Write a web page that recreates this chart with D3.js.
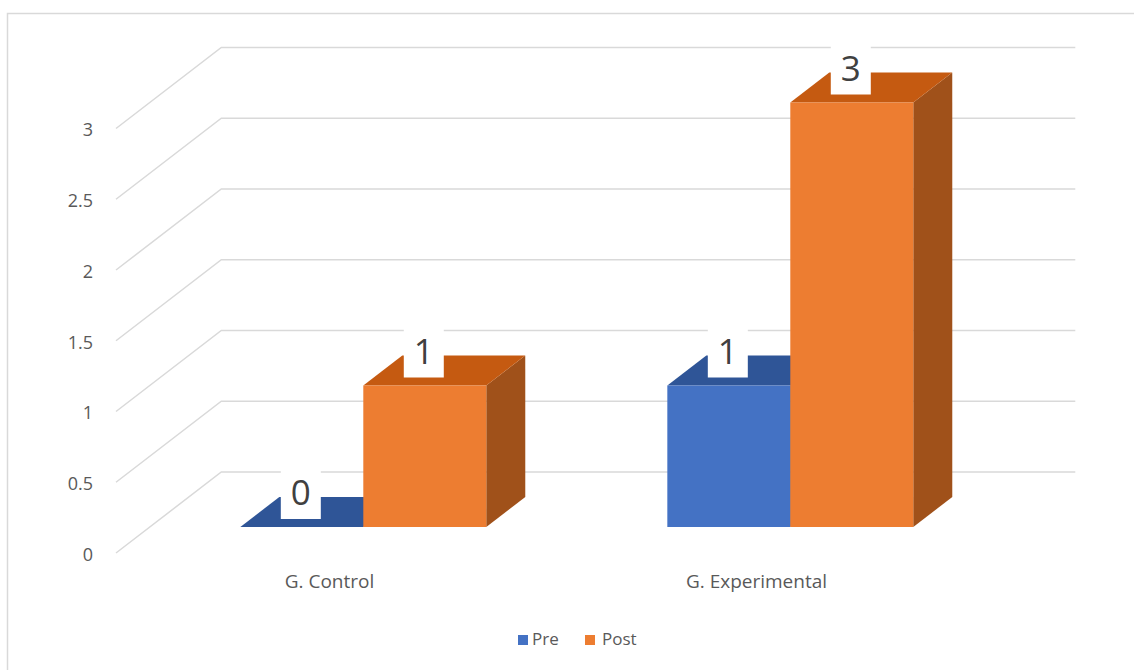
<!DOCTYPE html>
<html>
<head>
<meta charset="utf-8">
<script src="https://cdn.jsdelivr.net/npm/d3@7"></script>
<style>
  html, body { margin: 0; padding: 0; background: #fff; }
  svg { display: block; font-family: "Open Sans", "Noto Sans", sans-serif; }
</style>
</head>
<body>
<svg id="chart" width="1134" height="670"></svg>
<script>
// Data
const categories = ["G. Control", "G. Experimental"];
const seriesNames = ["Pre", "Post"];
const preValues = [0, 1];
const postValues = [1, 3];
const tickValues = [0, 0.5, 1, 1.5, 2, 2.5, 3];
const tickLabels = ["0", "0.5", "1", "1.5", "2", "2.5", "3"];

const colors = {
  Pre:  { front: "#4472C4", top: "#2F5597", side: "#2A4D8A" },
  Post: { front: "#ED7D31", top: "#C55A11", side: "#A0511A" }
};

const svg = d3.select("#chart");

// Chart area frame
svg.append("rect")
  .attr("x", 7.5).attr("y", 13.5)
  .attr("width", 1300).attr("height", 800)
  .attr("fill", "none").attr("stroke", "#D9D9D9").attr("stroke-width", 1.5);

// Oblique depth projection: each unit of depth moves right 1.3px and up 1px
const K = 1.3;
const proj = (x, y, dz) => [x + K * dz, y - dz];
const DEPTH_BAR_FRONT = 26, DEPTH_BAR_BACK = 56, DEPTH_WALL = 81;

// Scales on the front plane
const y = d3.scaleLinear().domain([0, 3]).range([553, 128.5]);
const x = d3.scaleBand().domain(categories).range([116, 970])
  .paddingInner(0.424).paddingOuter(0.212);
const xs = d3.scaleBand().domain(seriesNames).range([0, x.bandwidth()]).padding(0);

// Gridlines: left wall diagonals and back wall horizontals
const grid = svg.append("g").attr("stroke", "#D9D9D9").attr("stroke-width", 1.5).attr("fill", "none");
const [xL, xR] = x.range();
tickValues.forEach(v => {
  const a = proj(xL, y(v), 0);
  const b = proj(xL, y(v), DEPTH_WALL);
  const c = proj(xR, y(v), DEPTH_WALL);
  grid.append("path").attr("d", `M${a}L${b}L${c}`);
});

// Value axis labels
svg.append("g")
  .selectAll("text")
  .data(tickValues)
  .join("text")
  .attr("x", 93)
  .attr("y", v => y(v) + 3)
  .attr("text-anchor", "end")
  .attr("dominant-baseline", "middle")
  .attr("font-size", 18)
  .attr("fill", "#595959")
  .text((v, i) => tickLabels[i]);

// Category labels
svg.append("g")
  .selectAll("text")
  .data(categories)
  .join("text")
  .attr("x", c => x(c) + x.bandwidth() / 2)
  .attr("y", 583)
  .attr("text-anchor", "middle")
  .attr("dominant-baseline", "middle")
  .attr("font-size", 19)
  .attr("fill", "#595959")
  .text(c => c);

// Bars, drawn left to right so nearer faces cover hidden ones
const bars = [];
categories.forEach((c, i) => {
  bars.push({ cat: c, series: "Pre", value: preValues[i] });
  bars.push({ cat: c, series: "Post", value: postValues[i] });
});

const barG = svg.append("g");
const poly = pts => "M" + pts.map(p => p.join(",")).join("L") + "Z";

bars.forEach(d => {
  const x0 = x(d.cat) + xs(d.series);
  const x1 = x0 + xs.bandwidth();
  const yTop = y(d.value), yBase = y(0);
  const col = colors[d.series];
  const g = barG.append("g");
  // side face
  g.append("path")
    .attr("d", poly([proj(x1, yTop, DEPTH_BAR_FRONT), proj(x1, yBase, DEPTH_BAR_FRONT),
                     proj(x1, yBase, DEPTH_BAR_BACK), proj(x1, yTop, DEPTH_BAR_BACK)]))
    .attr("fill", col.side);
  // top face
  g.append("path")
    .attr("d", poly([proj(x0, yTop, DEPTH_BAR_FRONT), proj(x1, yTop, DEPTH_BAR_FRONT),
                     proj(x1, yTop, DEPTH_BAR_BACK), proj(x0, yTop, DEPTH_BAR_BACK)]))
    .attr("fill", col.top);
  // front face
  g.append("path")
    .attr("d", poly([proj(x0, yTop, DEPTH_BAR_FRONT), proj(x1, yTop, DEPTH_BAR_FRONT),
                     proj(x1, yBase, DEPTH_BAR_FRONT), proj(x0, yBase, DEPTH_BAR_FRONT)]))
    .attr("fill", col.front);
});

// Data labels in white boxes above each bar
const labelG = svg.append("g");
bars.forEach(d => {
  const x0 = x(d.cat) + xs(d.series);
  const [cx, topY] = proj(x0 + xs.bandwidth() / 2 - 1, y(d.value), DEPTH_BAR_FRONT);
  const boxBottom = topY - 8;
  labelG.append("rect")
    .attr("x", cx - 20).attr("y", boxBottom - 50)
    .attr("width", 40).attr("height", 50)
    .attr("fill", "#fff");
  labelG.append("text")
    .attr("x", cx).attr("y", boxBottom - 14)
    .attr("text-anchor", "middle")
    .attr("font-size", 35)
    .attr("fill", "#404040")
    .text(d.value);
});

// Legend
const legend = svg.append("g");
const legendItems = [
  { name: "Pre", sx: 518, tx: 532 },
  { name: "Post", sx: 585, tx: 602 }
];
legendItems.forEach(it => {
  legend.append("rect").attr("x", it.sx).attr("y", 635).attr("width", 10).attr("height", 10)
    .attr("fill", colors[it.name].front);
  legend.append("text").attr("x", it.tx).attr("y", 640)
    .attr("dominant-baseline", "middle")
    .attr("font-size", 17).attr("fill", "#595959")
    .text(it.name);
});
</script>
</body>
</html>
